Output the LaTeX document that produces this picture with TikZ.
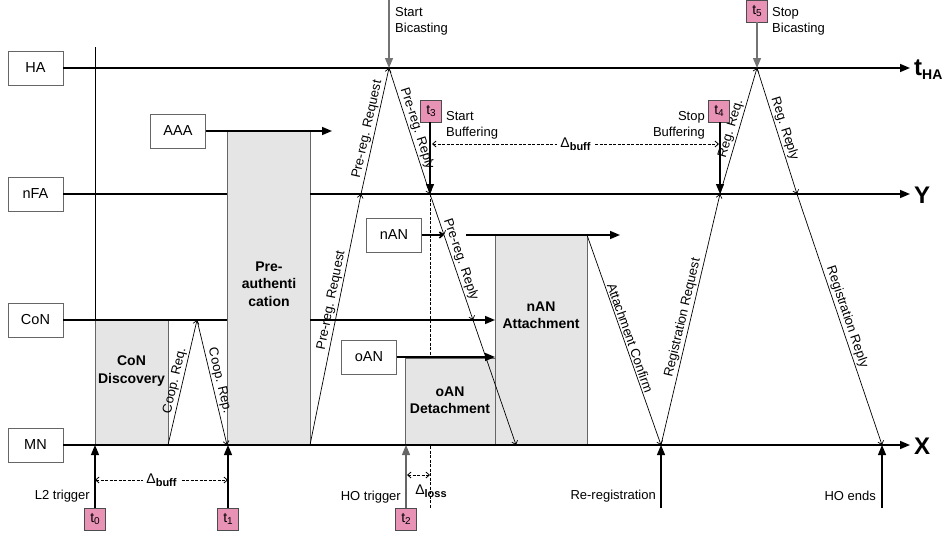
\documentclass[tikz,border=0pt]{standalone}
\usepackage{fontspec}
\setmainfont{Liberation Sans}
\usetikzlibrary{arrows.meta}
\definecolor{tpink}{RGB}{232,146,182}
\newcommand{\tsub}[1]{\raisebox{-2.5pt}{\fontsize{10}{10}\selectfont #1}}
\newcommand{\dsub}[1]{\raisebox{-3pt}{\bfseries\fontsize{11}{11}\selectfont #1}}

\begin{document}
\begin{tikzpicture}[x=1pt,y=-1pt,
  ent/.style={draw=black!60,fill=white,minimum width=55pt,minimum height=34pt,inner sep=0pt,outer sep=0pt,font=\fontsize{14.5}{16}\selectfont},
  phasebox/.style={draw=black!60,fill=gray!20,inner sep=0pt,outer sep=0pt,anchor=south west},
  phasetxt/.style={align=center,inner sep=0pt,font=\bfseries\fontsize{14}{17.5}\selectfont},
  tbox/.style={draw=black!70,fill=tpink,minimum width=21pt,minimum height=22pt,inner sep=0pt,font=\fontsize{14}{14}\selectfont},
  timeline/.style={line width=1.5pt,-{Triangle[length=10pt,width=8pt]}},
  tseg/.style={line width=1.5pt},
  msg/.style={line width=0.7pt,-{Straight Barb[length=3.5pt,width=6pt]}},
  msglbl/.style={sloped,above,inner sep=1.5pt,font=\fontsize{13}{16}\selectfont},
  evarrow/.style={line width=1.2pt,-{Triangle[length=10pt,width=8pt]}},
  evtxt/.style={inner sep=1pt,align=left,font=\fontsize{13}{16}\selectfont},
  spanline/.style={dash pattern=on 3pt off 1.5pt,line width=0.8pt,{Straight Barb[length=3.5pt,width=6pt]}-{Straight Barb[length=3.5pt,width=6pt]}},
  spanlbl/.style={fill=white,inner sep=3pt,font=\fontsize{14}{14}\selectfont},
  axlbl/.style={anchor=west,inner sep=1pt,font=\bfseries\fontsize{24}{24}\selectfont}]
\useasboundingbox (0,0) rectangle (944,541);

% entities
\node[ent] (ha) at (35.5,68) {HA};
\node[ent] (nfa) at (35.5,194) {nFA};
\node[ent] (con) at (35.5,320) {CoN};
\node[ent] (mn) at (35.5,445) {MN};
\node[ent] (aaa) at (178,131) {AAA};
\node[ent] (nan) at (394,235) {nAN};
\node[ent] (oan) at (369,357) {oAN};

% message points
\coordinate (cq1) at (197,320);
\coordinate (pq1) at (361,194);
\coordinate (hb) at (389,68);
\coordinate (pr1) at (430,194);
\coordinate (pr2) at (444,235);
\coordinate (pr3) at (473,320);
\coordinate (pr4) at (516,445);
\coordinate (rr0) at (661,445);
\coordinate (rr1) at (720,194);
\coordinate (hs) at (757,68);
\coordinate (rp1) at (797,194);
\coordinate (rp2) at (882,445);
\coordinate (thaend) at (910,68);
\coordinate (yend) at (910,194);
\coordinate (xend) at (910,445);
\coordinate (aaaend) at (332,131);
\coordinate (nanmid) at (466,235);
\coordinate (nanend) at (620,235);
\coordinate (vtop) at (95,47);
\coordinate (dlbot) at (430,508);

\draw[line width=0.8pt] (vtop) -- (95,445);
\draw[dash pattern=on 3pt off 1.5pt,line width=0.8pt] (pr1) -- (dlbot);

% phases
\node[phasebox,minimum width=73pt,minimum height=125pt] (cond) at (95,445) {};
\node[phasebox,minimum width=83pt,minimum height=314pt] (pauth) at (227,445) {};
\node[phasebox,minimum width=90pt,minimum height=87pt] (odet) at (405,445) {};
\node[phasebox,minimum width=92pt,minimum height=210pt] (natt) at (495,445) {};
\node[phasetxt] (condtxt) at (131.5,371) {CoN\\Discovery};
\node[phasetxt] (pauthtxt) at (269,284) {Pre-\\authenti\\cation};
\node[phasetxt] (odettxt) at (450,400) {oAN\\Detachment};
\node[phasetxt] (natttxt) at (541,315) {nAN\\Attachment};

% time lines
\draw[timeline] (ha.east) -- (thaend);
\draw[tseg] (nfa.east) -- (nfa.east -| pauth.west);
\draw[timeline] (nfa.east -| pauth.east) -- (yend);
\draw[tseg] (con.east) -- (con.east -| pauth.west);
\draw[timeline] (con.east -| pauth.east) -- (con.east -| natt.west);
\draw[timeline] (mn.east) -- (xend);
\draw[timeline] (aaa.east) -- (aaaend);
\draw[line width=1.5pt,-{Straight Barb[length=3.5pt,width=6pt]}] (nan.east) -- (pr2);
\draw[timeline] (nanmid) -- (nanend);
\draw[timeline] (oan.east) -- (oan.east -| odet.east);
\node[axlbl] (thalbl) at (913,70) {t\raisebox{-4pt}{\fontsize{14}{14}\selectfont HA}};
\node[axlbl] (ylbl) at (913,195) {Y};
\node[axlbl] (xlbl) at (913,446) {X};

% messages
\draw[msg] (cond.south east) -- node[msglbl] (lcq) {Coop. Req.} (cq1);
\draw[msg] (cq1) -- node[msglbl] (lcp) {Coop. Rep.} (pauth.south west);
\draw[msg] (pauth.south east) -- node[msglbl,pos=0.57] (lpq0) {Pre-reg. Request} (pq1);
\draw[msg] (pq1) -- node[msglbl] (lpq1) {Pre-reg. Request} (hb);
\draw[msg] (hb) -- node[msglbl] (lpr0) {Pre-reg. Reply} (pr1);
\draw[msg] (pr1) -- (pr2);
\draw[msg] (pr2) -- node[msglbl,pos=0.32] (lpr1) {Pre-reg. Reply} (pr3);
\draw[msg] (pr3) -- (pr4);
\draw[msg] (natt.north east) -- node[msglbl] (lac) {Attachment Confirm} (rr0);
\draw[msg] (rr0) -- node[msglbl] (lrr0) {Registration Request} (rr1);
\draw[msg] (rr1) -- node[msglbl] (lrr1) {Reg. Req.} (hs);
\draw[msg] (hs) -- node[msglbl] (lrp0) {Reg. Reply} (rp1);
\draw[msg] (rp1) -- node[msglbl] (lrp1) {Registration Reply} (rp2);

% events on top
\coordinate (sbtop) at (389,0);
\draw[evarrow,draw=black!55,fill=black] (sbtop) -- (hb);
\node[evtxt,anchor=west] (sbtxt) at (394,21) {Start\\Bicasting};
\node[tbox] (t5) at (757,11) {t\tsub{5}};
\draw[evarrow,draw=black!55] (t5) -- (hs);
\node[evtxt,anchor=west] (stbtxt) at (771,21) {Stop\\Bicasting};
\node[tbox] (t3) at (431,111) {t\tsub{3}};
\draw[evarrow] (t3.south -| pr1) -- (pr1);
\node[evtxt,anchor=west] (sbuftxt) at (445,125) {Start\\Buffering};
\node[tbox] (t4) at (719,111) {t\tsub{4}};
\draw[evarrow] (t4.south -| rr1) -- (rr1);
\node[evtxt,anchor=east,align=right] (stbuftxt) at (706,125) {Stop\\Buffering};
\coordinate (db2) at (432,144);
\coordinate (db3) at (719,144);
\draw[spanline] (db2) -- node[spanlbl] (dbuff1) {Δ\dsub{buff}} (db3);

% events below
\node[tbox] (t0) at (95,519) {t\tsub{0}};
\draw[evarrow] (t0) -- (t0 |- mn);
\node[evtxt,anchor=east] (l2txt) at (91,496) {L2 trigger};
\node[tbox] (t1) at (228,519) {t\tsub{1}};
\draw[evarrow] (t1) -- (t1 |- mn);
\coordinate (db0) at (95,480);
\coordinate (db1) at (228,480);
\draw[spanline] (db0) -- node[spanlbl] (dbuff0) {Δ\dsub{buff}} (db1);
\node[tbox] (t2) at (406,519) {t\tsub{2}};
\draw[evarrow,draw=black!60] (t2) -- (t2 |- mn);
\node[evtxt,anchor=east] (hotxt) at (402,497) {HO trigger};
\coordinate (dl0) at (407,475);
\coordinate (dl1) at (430,475);
\draw[spanline] (dl0) -- (dl1);
\node[font=\fontsize{14}{14}\selectfont,inner sep=0pt] (dloss) at (431,491) {Δ\dsub{loss}};
\coordinate (rereg) at (661,508);
\draw[evarrow] (rereg) -- (rr0);
\node[evtxt,anchor=east] (reregtxt) at (657,496) {Re-registration};
\coordinate (hoend) at (882,508);
\draw[evarrow] (hoend) -- (rp2);
\node[evtxt,anchor=east] (hoendtxt) at (877,496) {HO ends};
\end{tikzpicture}
\end{document}
